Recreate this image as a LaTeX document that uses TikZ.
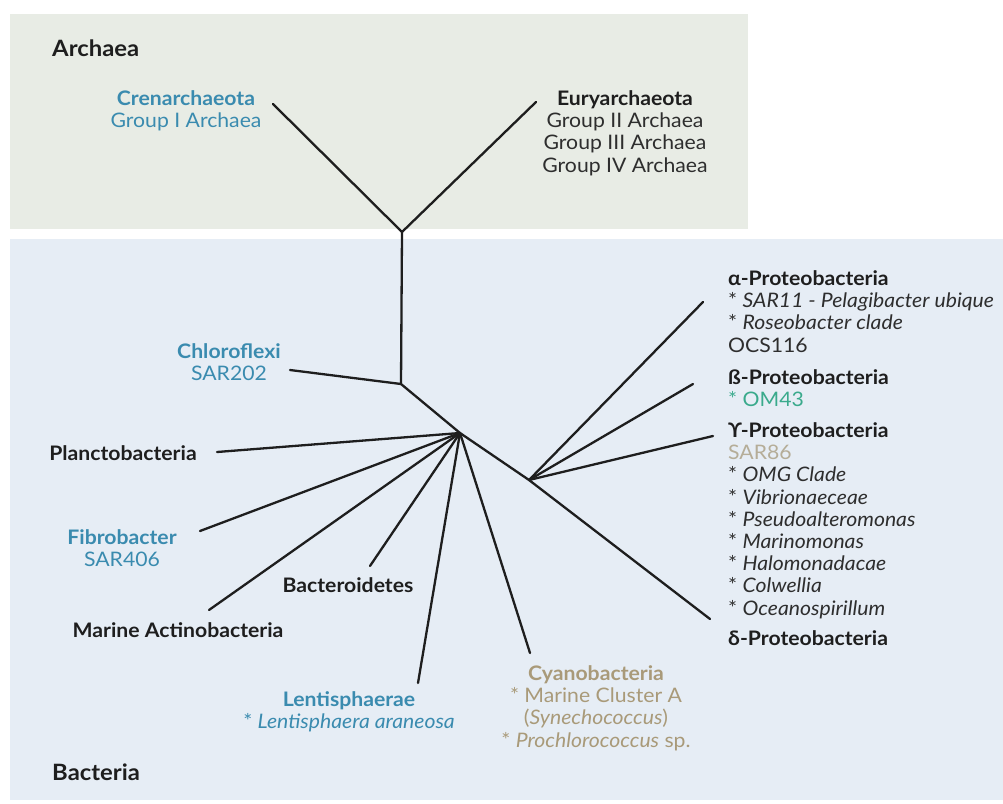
\documentclass[tikz,border=0pt]{standalone}
\usepackage{fontspec}
\setmainfont{Lato}[FakeStretch=1.06]
\definecolor{archbg}{HTML}{E8ECE5}
\definecolor{bactbg}{HTML}{E6EDF5}
\definecolor{blueT}{HTML}{3A8BAF}
\definecolor{greenT}{HTML}{3AAA8C}
\definecolor{tanT}{HTML}{A99A79}
\definecolor{sandT}{HTML}{B5AD98}
\definecolor{darkT}{HTML}{1E1E1E}
\definecolor{regT}{HTML}{2E2E2E}
\begin{document}
\begin{tikzpicture}[x=1pt,y=-1pt,
  lab/.style={inner sep=0pt, font=\fontsize{20}{22.2}\selectfont, text=regT},
  blab/.style={lab, text=darkT, font=\fontsize{20}{22.2}\selectfont\bfseries},
  domainlab/.style={inner sep=0pt, font=\fontsize{22.5}{26}\selectfont\bfseries, text=darkT, anchor=west},
  branch/.style={line width=2.3pt, draw=darkT, line cap=round, line join=round}]
\useasboundingbox (0,0) rectangle (1003,803);
\fill[white] (0,0) rectangle (1003,803);
% panels
\fill[archbg] (10,14) rectangle (748,229);
\fill[bactbg] (10,239) rectangle (1003,800);
\node[domainlab] (archaea) at (52,48) {Archaea};
\node[domainlab] (bacteria) at (52,772) {Bacteria};
% tree coordinates
\coordinate (aj) at (402,232);
\coordinate (crenleaf) at (273,104);
\coordinate (euryleaf) at (536,102);
\coordinate (cj) at (401,384);
\coordinate (chloroleaf) at (290,370);
\coordinate (hub) at (460,433);
\coordinate (plancleaf) at (217,452);
\coordinate (fibroleaf) at (200,531);
\coordinate (actinoleaf) at (209,610);
\coordinate (bacteroleaf) at (370,566);
\coordinate (lentileaf) at (418,683);
\coordinate (cyanoleaf) at (530,653);
\coordinate (pj) at (529,480);
\coordinate (alphaleaf) at (703,302);
\coordinate (betaleaf) at (693,384);
\coordinate (gammaleaf) at (713,436);
\coordinate (deltaleaf) at (710,619);
% branches
\draw[branch] (crenleaf) -- (aj) -- (euryleaf);
\draw[branch] (aj) -- (cj) -- (chloroleaf);
\draw[branch] (cj) -- (hub);
\draw[branch] (hub) -- (plancleaf);
\draw[branch] (hub) -- (fibroleaf);
\draw[branch] (hub) -- (actinoleaf);
\draw[branch] (hub) -- (bacteroleaf);
\draw[branch] (hub) -- (lentileaf);
\draw[branch] (hub) -- (cyanoleaf);
\draw[branch] (hub) -- (pj);
\draw[branch] (pj) -- (alphaleaf);
\draw[branch] (pj) -- (betaleaf);
\draw[branch] (pj) -- (gammaleaf);
\draw[branch] (pj) -- (deltaleaf);
% labels
\node[lab, anchor=north, align=center, text=blueT] (cren) at (186,90.5)
  {\textbf{Crenarchaeota}\\Group I Archaea};
\node[lab, anchor=north, align=center] (eury) at (625,90.5)
  {\textbf{\color{darkT}Euryarchaeota}\\Group II Archaea\\Group III Archaea\\Group IV Archaea};
\node[lab, anchor=north, align=center, text=blueT] (chloro) at (229,343.5)
  {\textbf{Chloroflexi}\\SAR202};
\node[blab, anchor=north] (planc) at (123,445.5)
  {Planctobacteria};
\node[lab, anchor=north, align=center, text=blueT] (fibro) at (122,529.5)
  {\textbf{Fibrobacter}\\SAR406};
\node[blab, anchor=north] (bactero) at (348,577.5)
  {Bacteroidetes};
\node[blab, anchor=north] (actino) at (178,622.5)
  {Marine Actinobacteria};
\node[lab, anchor=north, align=center, text=blueT] (lenti) at (349,691.5)
  {\textbf{Lentisphaerae}\\* \textit{Lentisphaera araneosa}};
\node[lab, anchor=north, align=center, text=tanT] (cyano) at (596,665.5)
  {\textbf{Cyanobacteria}\\* Marine Cluster A\\(\textit{Synechococcus})\\* \textit{Prochlorococcus} sp.};
\node[lab, anchor=north west, align=left] (alpha) at (728,270.5)
  {\textbf{\color{darkT}α-Proteobacteria}\\* \textit{SAR11 - Pelagibacter ubique}\\* \textit{Roseobacter clade}\\OCS116};
\node[lab, anchor=north west, align=left] (beta) at (728,369.5)
  {\textbf{\color{darkT}ß-Proteobacteria}\\{\color{greenT}* OM43}};
\node[lab, anchor=north west, align=left] (gamma) at (728,422.5)
  {\textbf{\color{darkT}ϒ-Proteobacteria}\\{\color{sandT}SAR86}\\* \textit{OMG Clade}\\* \textit{Vibrionaeceae}\\* \textit{Pseudoalteromonas}\\* \textit{Marinomonas}\\* \textit{Halomonadacae}\\* \textit{Colwellia}\\* \textit{Oceanospirillum}};
\node[blab, anchor=north west] (delta) at (728,630.5)
  {δ-Proteobacteria};
\end{tikzpicture}
\end{document}
